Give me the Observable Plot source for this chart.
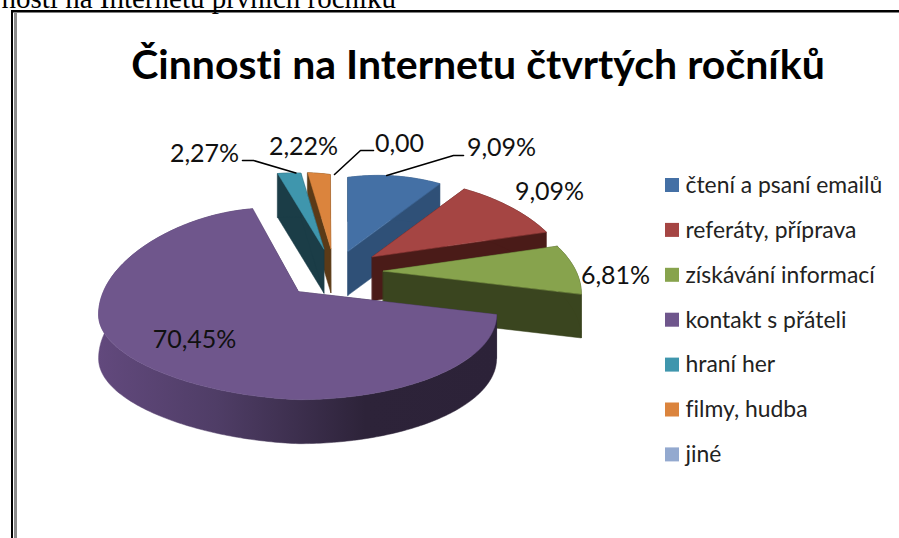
<!DOCTYPE html>
<html><head><meta charset="utf-8">
<script src="https://cdn.jsdelivr.net/npm/d3@7"></script>
<script src="https://cdn.jsdelivr.net/npm/@observablehq/plot@0.6"></script>
<style>html,body{margin:0;padding:0;background:#fff;overflow:hidden}svg{display:block}</style>
</head><body><div id="c"></div>
<script>
const categories = ["čtení a psaní emailů","referáty, příprava","získávání informací","kontakt s přáteli","hraní her","filmy, hudba","jiné"];
const values = [9.09,9.09,6.81,70.45,2.27,2.22,0];
const valueLabels = ["9,09%","9,09%","6,81%","70,45%","2,27%","2,22%","0,00"];
const topColors = ["#4470a5","#a54543","#87a34d","#6f568c","#3f96ad","#db843d","#93a9cf"];
const wallColors = ["#2f5077","#4a1b18","#3a451f","url(#purpleWall)","#1b3d47","#5b3a17","#5a6a85"];
// layout
const labelX = [501,549,615,194,204,303,399];
const labelY = [147,191,275,339,153,146,143];
const drawOrder = [5,4,0,1,2,3];
const explode = [0.95,1,1,1.2,1,1,1];
const sink = [0,0,5,1,-1,-1,0];
const farStretch = [1,1,1,1.08,1,1,1];
const leaders = [[463,155,453,155],null,null,null,[242,160,253,160],null,[373,150,360,150]];
const CX = 334, CY = 270, EX = 50, EY = 21, DEPTH = 44;

const total = 100;
const rad = d => d * Math.PI / 180;
let acc = 0;
const slices = values.map((v,i) => { const a0 = acc/total*360; acc += v; return {i, v, a0, a1: acc/total*360}; });

function offset(deg, far = 1){
  const t = rad(deg), s = Math.sin(t), c = Math.cos(t), s2 = Math.sin(2*t);
  const rx = s > 0 ? 198 : 200;
  if (c > 0) return [rx*s*(1-0.2*c*c), 23-97*far*c-10*Math.abs(s2)];
  return [rx*s, 23-85*c-4*Math.max(0,s2)];
}
function tip(sl){
  const m = rad((sl.a0+sl.a1)/2), e = explode[sl.i];
  return [CX+e*EX*Math.sin(m), CY-e*EY*Math.cos(m)+sink[sl.i]];
}
function rimPts(sl){
  const [tx,ty] = tip(sl), pts = [];
  const n = Math.max(2, Math.ceil(sl.a1-sl.a0));
  for (let k=0;k<=n;k++){ const [ox,oy] = offset(sl.a0+(sl.a1-sl.a0)*k/n, farStretch[sl.i]); pts.push({x:tx+ox,y:ty+oy}); }
  return pts;
}
const poly = (pts,fill) => Plot.line(pts,{x:"x",y:"y",fill,stroke:fill,strokeWidth:0.5,curve:"linear-closed"});
const down = p => ({x:p.x,y:p.y+DEPTH});

const pieMarks = [];
for (const i of drawOrder){
  const sl = slices[i], [tx,ty] = tip(sl), rim = rimPts(sl);
  const T = {x:tx,y:ty};
  pieMarks.push(poly([T,rim[0],down(rim[0]),down(T)],wallColors[i]));
  pieMarks.push(poly([T,rim[rim.length-1],down(rim[rim.length-1]),down(T)],wallColors[i]));
  pieMarks.push(poly([...rim,...rim.map(down).reverse()],wallColors[i]));
  pieMarks.push(poly([T,...rim],topColors[i]));
}
const leaderMarks = leaders.map((l,i) => {
  if(!l) return null;
  const sl = slices[i], [tx,ty] = tip(sl);
  const [ox,oy] = offset(i===4 ? 345+5 : i===0 ? 14 : 0);
  const end = i===6 ? {x:334,y:174} : {x:tx+ox,y:ty+oy};
  return Plot.line([{x:l[0],y:l[1]},{x:l[2],y:l[3]},end],{x:"x",y:"y",stroke:"#000",strokeWidth:1.6});
}).filter(Boolean);

const defs = () => {
  const d = d3.create("svg:defs");
  const g = d.append("linearGradient").attr("id","purpleWall").attr("gradientUnits","userSpaceOnUse")
    .attr("x1",97).attr("x2",497).attr("y1",0).attr("y2",0);
  [[0,"#62497d"],[0.3,"#4f3d66"],[0.67,"#2d2339"],[1,"#2c2238"]].forEach(([o,c])=>g.append("stop").attr("offset",o).attr("stop-color",c));
  return d.node();
};
const legendRows = categories.map((c,i)=>({c,i,color:topColors[i]}));
const sliceRows = slices.map((s,i)=>({s:valueLabels[i],x:labelX[i],y:labelY[i]}));

const plot = Plot.plot({
  width:899, height:538, margin:0,
  x:{domain:[0,899],range:[0,899],axis:null},
  y:{domain:[0,538],range:[0,538],axis:null},
  style:"background:#fff;font-family:Lato;font-variant-ligatures:none",
  marks:[
    defs,
    Plot.text(["nosti na Internetu prvních ročníku"],{x:()=>1,y:()=>-2,text:d=>d,textAnchor:"start",fontFamily:"Liberation Serif",fontSize:29,fill:"#000"}),
    Plot.rect([0],{x1:()=>11,x2:()=>899,y1:()=>10,y2:()=>12.5,fill:"#000"}),
    Plot.rect([0],{x1:()=>11,x2:()=>13,y1:()=>10,y2:()=>538,fill:"#000"}),
    Plot.rect([0],{x1:()=>14,x2:()=>17,y1:()=>12.5,y2:()=>538,fill:"#8c8c8c"}),
    Plot.text(["Činnosti na Internetu čtvrtých ročníků"],{x:()=>477.5,y:()=>65,text:d=>d,fontFamily:"Lato",fontWeight:"bold",fontSize:41,fill:"#000"}),
    ...pieMarks,
    ...leaderMarks,
    Plot.text(sliceRows,{x:"x",y:"y",text:"s",fontFamily:"Lato",fontSize:25,fill:"#111"}),
    Plot.rect(legendRows,{x1:()=>665,x2:()=>679,y1:d=>178+d.i*44.9,y2:d=>192+d.i*44.9,fill:"color"}),
    Plot.text(legendRows,{x:()=>685,y:d=>185+d.i*44.9,text:"c",textAnchor:"start",fontFamily:"Lato",fontSize:22.9,fill:"#222"})
  ]
});
document.getElementById("c").append(plot);
</script></body></html>
